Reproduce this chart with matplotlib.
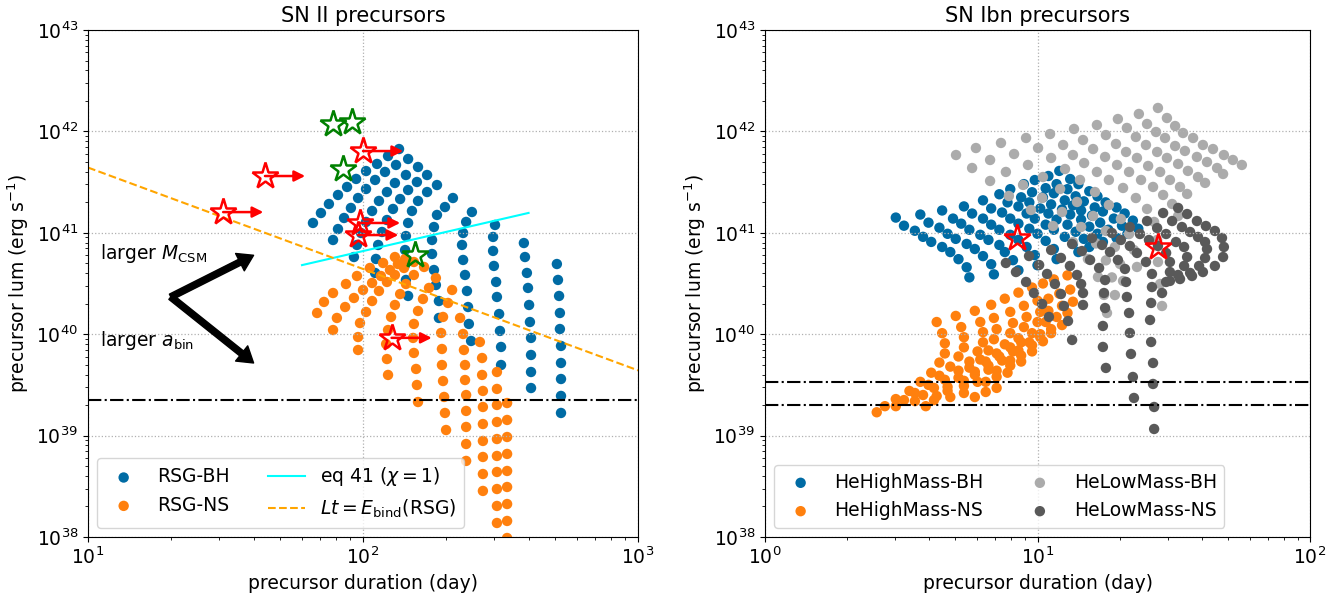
import numpy as np
import matplotlib
matplotlib.use('Agg')
import matplotlib.pyplot as plt

# colours of the tableau-colorblind10 cycle
c_blue = '#006BA4'
c_orange = '#FF800E'
c_lgray = '#ABABAB'
c_dgray = '#595959'

DAY = 86400.0

# ---------------- SN II panel (values are log10 of days / erg s^-1) ----------------
rsg_bh_logt = [
    [1.818, 1.847, 1.876, 1.909, 1.942, 1.975, 2.011, 2.051, 2.091, 2.131],
    [1.891, 1.909, 1.931, 1.956, 1.982, 2.011, 2.044, 2.080, 2.120, 2.164],
    [1.967, 1.978, 1.993, 2.011, 2.033, 2.058, 2.087, 2.116, 2.156, 2.200],
    [2.044, 2.047, 2.055, 2.069, 2.087, 2.109, 2.135, 2.164, 2.196, 2.233],
    [2.164, 2.156, 2.153, 2.153, 2.156, 2.164, 2.178, 2.200, 2.233, 2.269],
    [2.276, 2.276, 2.265, 2.258, 2.251, 2.251, 2.258, 2.269, 2.298, 2.327],
    [2.393, 2.385, 2.382, 2.378, 2.371, 2.364, 2.360, 2.364, 2.375, 2.396],
    [2.502, 2.502, 2.498, 2.495, 2.487, 2.484, 2.476, 2.473, 2.473, 2.480],
    [2.611, 2.611, 2.611, 2.611, 2.607, 2.604, 2.600, 2.596, 2.589, 2.585],
    [2.720, 2.720, 2.720, 2.720, 2.720, 2.716, 2.716, 2.713, 2.709, 2.705],
]
rsg_bh_logL = [
    [41.097, 41.195, 41.284, 41.373, 41.452, 41.531, 41.609, 41.679, 41.757, 41.826],
    [40.929, 41.037, 41.146, 41.245, 41.343, 41.432, 41.521, 41.600, 41.669, 41.728],
    [40.761, 40.880, 40.998, 41.107, 41.215, 41.314, 41.402, 41.491, 41.570, 41.649],
    [40.604, 40.742, 40.880, 41.008, 41.126, 41.235, 41.333, 41.422, 41.501, 41.570],
    [40.377, 40.535, 40.682, 40.830, 40.968, 41.097, 41.215, 41.314, 41.402, 41.471],
    [40.160, 40.327, 40.485, 40.633, 40.791, 40.929, 41.057, 41.176, 41.254, 41.343],
    [39.933, 40.101, 40.268, 40.426, 40.584, 40.732, 40.880, 40.998, 41.107, 41.205],
    [39.696, 39.874, 40.032, 40.199, 40.367, 40.515, 40.673, 40.821, 40.959, 41.077],
    [39.469, 39.627, 39.795, 39.963, 40.120, 40.288, 40.456, 40.604, 40.761, 40.899],
    [39.223, 39.391, 39.558, 39.716, 39.884, 40.051, 40.209, 40.377, 40.535, 40.692],
]
rsg_ns_logt = [
    [1.833, 1.858, 1.891, 1.938, 1.978, 2.025, 2.073, 2.116],
    [1.891, 1.905, 1.935, 1.967, 2.000, 2.033, 2.065, 2.098, 2.127, 2.153],
    [1.982, 1.982, 1.989, 2.011, 2.033, 2.058, 2.087, 2.116, 2.149, 2.185],
    [2.091, 2.087, 2.084, 2.091, 2.102, 2.116, 2.135, 2.156, 2.185, 2.222],
    [2.200, 2.196, 2.193, 2.185, 2.182, 2.185, 2.200, 2.218, 2.240, 2.265],
    [2.324, 2.309, 2.291, 2.284, 2.287, 2.287, 2.291, 2.295, 2.298, 2.302],
    [2.353, 2.364, 2.367, 2.371, 2.371, 2.375, 2.375, 2.375, 2.375, 2.375],
    [2.425, 2.433, 2.433, 2.436, 2.436, 2.436, 2.436, 2.436, 2.436, 2.436],
    [2.487, 2.487, 2.487, 2.487, 2.487, 2.487, 2.487, 2.487, 2.487, 2.487],
    [2.524, 2.524, 2.524, 2.524, 2.524, 2.524, 2.524, 2.524, 2.524, 2.524],
]
rsg_ns_logL = [
    [40.209, 40.318, 40.406, 40.495, 40.574, 40.653, 40.702, 40.761],
    [40.041, 40.160, 40.268, 40.357, 40.436, 40.505, 40.574, 40.633, 40.692, 40.742],
    [39.844, 39.972, 40.110, 40.219, 40.327, 40.426, 40.515, 40.584, 40.653, 40.712],
    [39.598, 39.755, 39.903, 40.041, 40.170, 40.288, 40.396, 40.495, 40.584, 40.663],
    [39.331, 39.499, 39.657, 39.815, 39.963, 40.101, 40.229, 40.347, 40.456, 40.554],
    [40.436, 40.308, 40.170, 40.012, 39.854, 39.696, 39.538, 39.381, 39.223, 39.055],
    [40.160, 40.002, 39.844, 39.696, 39.548, 39.400, 39.243, 39.085, 38.917, 38.750],
    [39.923, 39.765, 39.598, 39.440, 39.282, 39.114, 38.947, 38.789, 38.621, 38.454],
    [39.627, 39.460, 39.302, 39.134, 38.966, 38.799, 38.641, 38.473, 38.306, 38.138],
    [39.321, 39.154, 38.986, 38.819, 38.651, 38.493, 38.325, 38.158, 37.990, 37.822],
]

# observed precursors (day, erg/s); red ones are lower limits on duration
red_t_II = [31.0, 44.0, 100.0, 97.5, 96.0, 127.0]
red_L_II = [1.6e41, 3.63e41, 6.4e41, 1.25e41, 9.5e40, 9.2e39]
green_t_II = [77.8, 91.2, 84.6, 154.6]
green_L_II = [1.18e42, 1.24e42, 4.26e41, 6.0e40]

eq41_t = [60.0, 400.0]
eq41_L = [4.8e40, 1.57e41]
Ebind_RSG = 3.8e47
Lt_t = [10.0, 1000.0]
Lmin_II = 2.24e39

# ---------------- SN Ibn panel ----------------
hhm_bh_logt = [
    [0.48, 0.51, 0.55, 0.58, 0.61, 0.65, 0.68, 0.71, 0.74, 0.75],
    [0.57, 0.60, 0.64, 0.67, 0.70, 0.74, 0.77, 0.80, 0.83, 0.84],
    [0.65, 0.69, 0.72, 0.75, 0.79, 0.82, 0.86, 0.88, 0.91, 0.93],
    [0.73, 0.76, 0.80, 0.83, 0.86, 0.90, 0.93, 0.96, 0.99, 1.00],
    [0.80, 0.83, 0.87, 0.90, 0.93, 0.97, 1.00, 1.03, 1.06, 1.07],
    [0.86, 0.89, 0.93, 0.96, 0.99, 1.03, 1.06, 1.10, 1.13, 1.15],
    [0.90, 0.94, 0.97, 1.01, 1.04, 1.07, 1.11, 1.14, 1.17, 1.19],
    [0.95, 0.98, 1.02, 1.05, 1.09, 1.12, 1.16, 1.19, 1.22, 1.24],
    [0.99, 1.03, 1.06, 1.10, 1.13, 1.16, 1.20, 1.23, 1.26, 1.29],
    [1.04, 1.07, 1.11, 1.14, 1.17, 1.21, 1.24, 1.28, 1.31, 1.33],
    [1.08, 1.12, 1.15, 1.19, 1.22, 1.25, 1.29, 1.32, 1.35, 1.37],
]
hhm_bh_logL = [
    [41.15, 41.07, 41.02, 40.96, 40.91, 40.86, 40.81, 40.74, 40.66, 40.56],
    [41.18, 41.10, 41.05, 40.99, 40.94, 40.89, 40.84, 40.77, 40.69, 40.59],
    [41.22, 41.14, 41.09, 41.03, 40.98, 40.93, 40.88, 40.81, 40.73, 40.63],
    [41.26, 41.19, 41.14, 41.08, 41.03, 40.98, 40.93, 40.86, 40.78, 40.68],
    [41.32, 41.24, 41.20, 41.14, 41.09, 41.04, 40.99, 40.92, 40.84, 40.74],
    [41.38, 41.30, 41.26, 41.19, 41.14, 41.08, 41.03, 40.96, 40.89, 40.81],
    [41.43, 41.35, 41.30, 41.24, 41.19, 41.13, 41.08, 41.01, 40.94, 40.86],
    [41.48, 41.40, 41.35, 41.28, 41.23, 41.18, 41.13, 41.06, 40.99, 40.91],
    [41.52, 41.44, 41.39, 41.32, 41.27, 41.22, 41.17, 41.10, 41.03, 40.95],
    [41.56, 41.48, 41.43, 41.36, 41.31, 41.25, 41.21, 41.14, 41.07, 40.99],
    [41.61, 41.53, 41.48, 41.41, 41.36, 41.30, 41.25, 41.19, 41.12, 41.04],
]
hhm_ns_logt = [
    [0.63, 0.65, 0.66, 0.66, 0.64, 0.61, 0.57, 0.53, 0.48, 0.44, 0.41],
    [0.70, 0.72, 0.73, 0.73, 0.71, 0.68, 0.64, 0.60, 0.55, 0.51, 0.48],
    [0.77, 0.79, 0.80, 0.80, 0.78, 0.75, 0.71, 0.66, 0.62, 0.58, 0.55],
    [0.83, 0.84, 0.85, 0.84, 0.82, 0.79, 0.75, 0.71, 0.67, 0.63, 0.59],
    [0.88, 0.90, 0.91, 0.90, 0.88, 0.85, 0.81, 0.77, 0.73, 0.67, 0.62],
    [0.93, 0.95, 0.96, 0.95, 0.93, 0.90, 0.86, 0.82, 0.77, 0.73, 0.68],
    [0.98, 1.00, 1.01, 1.00, 0.98, 0.94, 0.91, 0.87, 0.82, 0.78, 0.73],
    [1.02, 1.04, 1.04, 1.03, 1.01, 0.97, 0.93, 0.90, 0.85, 0.81, 0.77],
    [1.06, 1.08, 1.09, 1.07, 1.05, 1.01, 0.98, 0.94, 0.90, 0.85, 0.81],
    [1.11, 1.12, 1.13, 1.11, 1.09, 1.05, 1.02, 0.98, 0.94, 0.89, 0.85],
]
hhm_ns_logL = [
    [40.12, 40.01, 39.91, 39.81, 39.72, 39.62, 39.53, 39.44, 39.36, 39.29, 39.23],
    [40.18, 40.07, 39.97, 39.87, 39.78, 39.68, 39.59, 39.50, 39.42, 39.35, 39.29],
    [40.23, 40.12, 40.02, 39.92, 39.83, 39.73, 39.64, 39.55, 39.47, 39.40, 39.34],
    [40.29, 40.16, 40.05, 39.95, 39.84, 39.75, 39.67, 39.57, 39.48, 39.39, 39.29],
    [40.35, 40.22, 40.11, 40.01, 39.90, 39.81, 39.73, 39.63, 39.54, 39.44, 39.35],
    [40.41, 40.28, 40.17, 40.07, 39.96, 39.87, 39.78, 39.69, 39.60, 39.49, 39.38],
    [40.46, 40.33, 40.22, 40.12, 40.01, 39.92, 39.83, 39.74, 39.65, 39.53, 39.42],
    [40.50, 40.35, 40.23, 40.12, 40.00, 39.92, 39.84, 39.74, 39.64, 39.53, 39.38],
    [40.54, 40.40, 40.28, 40.17, 40.05, 39.97, 39.89, 39.79, 39.69, 39.58, 39.43],
    [40.58, 40.44, 40.32, 40.21, 40.09, 40.01, 39.93, 39.83, 39.73, 39.62, 39.47],
]
hlm_bh_logt = [
    [0.701, 0.760, 0.826, 0.895, 0.976, 1.057, 1.130, 1.185, 1.222, 1.244, 1.255],
    [0.774, 0.826, 0.884, 0.947, 1.017, 1.090, 1.160, 1.215, 1.251, 1.273, 1.284],
    [0.866, 0.914, 0.965, 1.020, 1.083, 1.145, 1.204, 1.251, 1.284, 1.303, 1.314],
    [0.958, 1.002, 1.050, 1.101, 1.156, 1.211, 1.262, 1.306, 1.336, 1.354, 1.365],
    [1.046, 1.094, 1.130, 1.171, 1.218, 1.262, 1.314, 1.361, 1.402, 1.428, 1.439, 1.442, 1.450, 1.457],
    [1.134, 1.167, 1.204, 1.248, 1.292, 1.336, 1.380, 1.424, 1.461, 1.494, 1.516],
    [1.218, 1.251, 1.288, 1.325, 1.365, 1.406, 1.450, 1.486, 1.523, 1.549],
    [1.295, 1.328, 1.361, 1.398, 1.439, 1.475, 1.516, 1.552, 1.589, 1.615],
    [1.372, 1.402, 1.435, 1.468, 1.505, 1.541, 1.585, 1.622, 1.659, 1.681],
    [1.442, 1.475, 1.505, 1.534, 1.571, 1.607, 1.644, 1.684, 1.717, 1.750],
]
hlm_bh_logL = [
    [41.767, 41.639, 41.511, 41.363, 41.225, 41.067, 40.909, 40.742, 40.564, 40.387, 40.209],
    [41.836, 41.718, 41.600, 41.472, 41.343, 41.205, 41.057, 40.895, 40.728, 40.560, 40.386],
    [41.886, 41.777, 41.669, 41.550, 41.432, 41.304, 41.166, 41.018, 40.860, 40.692, 40.525],
    [41.935, 41.836, 41.738, 41.629, 41.521, 41.402, 41.274, 41.136, 40.988, 40.830, 40.663],
    [41.974, 41.866, 41.767, 41.688, 41.600, 41.521, 41.442, 41.343, 41.235, 41.107, 40.929, 40.712, 40.495, 40.278],
    [42.024, 41.915, 41.826, 41.748, 41.669, 41.600, 41.521, 41.452, 41.373, 41.284, 41.166],
    [42.063, 41.964, 41.876, 41.797, 41.738, 41.659, 41.600, 41.521, 41.452, 41.383],
    [42.122, 42.034, 41.945, 41.866, 41.797, 41.738, 41.679, 41.610, 41.550, 41.492],
    [42.172, 42.073, 41.994, 41.935, 41.856, 41.807, 41.748, 41.698, 41.639, 41.580],
    [42.231, 42.132, 42.053, 41.984, 41.935, 41.866, 41.826, 41.767, 41.718, 41.669],
]
hlm_ns_logt = [
    [0.884, 0.921, 0.958, 0.987, 1.017, 1.042],
    [0.969, 1.006, 1.035, 1.064, 1.086, 1.097, 1.112, 1.127],
    [1.050, 1.086, 1.119, 1.145, 1.160, 1.167, 1.167],
    [1.127, 1.163, 1.193, 1.226, 1.248, 1.244, 1.248, 1.240, 1.240, 1.251],
    [1.200, 1.237, 1.266, 1.295, 1.321, 1.325, 1.328, 1.336, 1.339, 1.343, 1.350, 1.354],
    [1.273, 1.306, 1.339, 1.365, 1.398, 1.420, 1.420, 1.417, 1.413, 1.417, 1.424, 1.424, 1.428, 1.428],
    [1.339, 1.376, 1.409, 1.442, 1.472, 1.486, 1.486, 1.472, 1.457],
    [1.402, 1.439, 1.472, 1.508, 1.538, 1.549, 1.538, 1.516, 1.486],
    [1.461, 1.494, 1.530, 1.560, 1.589, 1.615, 1.622, 1.615, 1.593, 1.560, 1.523],
    [1.516, 1.549, 1.585, 1.618, 1.651, 1.677, 1.684, 1.681, 1.651, 1.607, 1.567],
]
hlm_ns_logL = [
    [40.702, 40.613, 40.515, 40.406, 40.298, 40.170],
    [40.771, 40.682, 40.594, 40.495, 40.396, 40.278, 40.130, 39.943],
    [40.830, 40.752, 40.673, 40.584, 40.495, 40.406, 40.288],
    [40.890, 40.820, 40.732, 40.653, 40.534, 40.406, 40.258, 40.081, 39.874, 39.667],
    [40.949, 40.880, 40.811, 40.732, 40.643, 40.515, 40.367, 40.209, 40.012, 39.805, 39.578, 39.371],
    [40.998, 40.929, 40.870, 40.801, 40.712, 40.594, 40.465, 40.308, 40.140, 39.923, 39.716, 39.509, 39.282, 39.065],
    [41.057, 40.988, 40.929, 40.870, 40.801, 40.712, 40.613, 40.515, 40.406],
    [41.116, 41.047, 40.988, 40.909, 40.860, 40.761, 40.673, 40.584, 40.525],
    [41.195, 41.116, 41.057, 41.008, 40.959, 40.909, 40.840, 40.751, 40.673, 40.604, 40.544],
    [41.245, 41.185, 41.116, 41.067, 41.018, 40.949, 40.860, 40.761, 40.673, 40.613, 40.574],
]
red_t_Ibn = [8.4, 27.7]
red_L_Ibn = [8.9e40, 7.2e40]
Lmin_Ibn = [3.38e39, 2.0e39]


def flat(rows):
    return 10 ** np.concatenate([np.asarray(r, dtype=float) for r in rows])


plt.rcParams['font.size'] = 13.5
DOT = 56

fig = plt.figure(figsize=(13.44, 5.94), dpi=100)
ax1 = fig.add_axes([0.0655, 0.096, 0.4092, 0.8535])
ax2 = fig.add_axes([0.5692, 0.096, 0.4055, 0.8535])

# ---- left panel
h_bh = ax1.scatter(flat(rsg_bh_logt), flat(rsg_bh_logL), s=DOT, color=c_blue,
                   edgecolors='none', label='RSG-BH')
h_ns = ax1.scatter(flat(rsg_ns_logt), flat(rsg_ns_logL), s=DOT, color=c_orange,
                   edgecolors='none', label='RSG-NS')
h_eq, = ax1.plot(eq41_t, eq41_L, color='cyan', lw=1.5, label=r'eq 41 ($\chi=1$)')
Lt_t = np.array(Lt_t)
h_lt, = ax1.plot(Lt_t, Ebind_RSG / (Lt_t * DAY), color='orange', ls='--', lw=1.5,
                 label=r'$Lt=E_{\rm bind}$(RSG)')
ax1.axhline(Lmin_II, color='k', ls='-.', lw=1.5)

ax1.plot(red_t_II, red_L_II, ls='none', marker='*', ms=20, mfc='none', mec='red', mew=1.8, zorder=4)
for t, L in zip(red_t_II, red_L_II):
    ax1.annotate('', xy=(t * 1.4, L), xytext=(t, L),
                 arrowprops=dict(arrowstyle='-|>', color='red', lw=1.8,
                                 mutation_scale=16, shrinkA=0, shrinkB=0), zorder=4)
ax1.plot(green_t_II, green_L_II, ls='none', marker='*', ms=20, mfc='none', mec='green', mew=1.8, zorder=4)

# parameter-direction arrows
for tip in [6.0e40, 5.2e39]:
    ax1.annotate('', xy=(40, tip), xytext=(20, 2.33e40),
                 arrowprops=dict(facecolor='black', edgecolor='black', width=4.5,
                                 headwidth=14, headlength=11, shrink=0))
ax1.text(11.05, 6.3e40, r'larger $M_{\rm CSM}$', va='center')
ax1.text(11.05, 8.7e39, r'larger $a_{\rm bin}$', va='center')

ax1.set_xscale('log')
ax1.set_yscale('log')
ax1.set_xlim(10, 1000)
ax1.set_ylim(1e38, 1e43)
ax1.grid(True, which='major', ls=':', color='#b0b0b0', lw=0.9)
ax1.set_xlabel('precursor duration (day)')
ax1.set_ylabel(r'precursor lum (erg s$^{-1}$)')
ax1.set_title('SN II precursors', fontsize=15)
ax1.legend(handles=[h_bh, h_ns, h_eq, h_lt], loc='lower left', ncol=2)

# ---- right panel
ax2.scatter(flat(hhm_bh_logt), flat(hhm_bh_logL), s=DOT, color=c_blue, edgecolors='none', label='HeHighMass-BH')
ax2.scatter(flat(hhm_ns_logt), flat(hhm_ns_logL), s=DOT, color=c_orange, edgecolors='none', label='HeHighMass-NS')
ax2.scatter(flat(hlm_bh_logt), flat(hlm_bh_logL), s=DOT, color=c_lgray, edgecolors='none', label='HeLowMass-BH')
ax2.scatter(flat(hlm_ns_logt), flat(hlm_ns_logL), s=DOT, color=c_dgray, edgecolors='none', label='HeLowMass-NS')
for L in Lmin_Ibn:
    ax2.axhline(L, color='k', ls='-.', lw=1.5)
ax2.plot(red_t_Ibn, red_L_Ibn, ls='none', marker='*', ms=20, mfc='none', mec='red', mew=1.8, zorder=4)

ax2.set_xscale('log')
ax2.set_yscale('log')
ax2.set_xlim(1, 100)
ax2.set_ylim(1e38, 1e43)
ax2.grid(True, which='major', ls=':', color='#b0b0b0', lw=0.9)
ax2.set_xlabel('precursor duration (day)')
ax2.set_ylabel(r'precursor lum (erg s$^{-1}$)')
ax2.set_title('SN Ibn precursors', fontsize=15)
ax2.legend(loc='lower left', ncol=2)

fig.savefig('out.png', dpi=100)
